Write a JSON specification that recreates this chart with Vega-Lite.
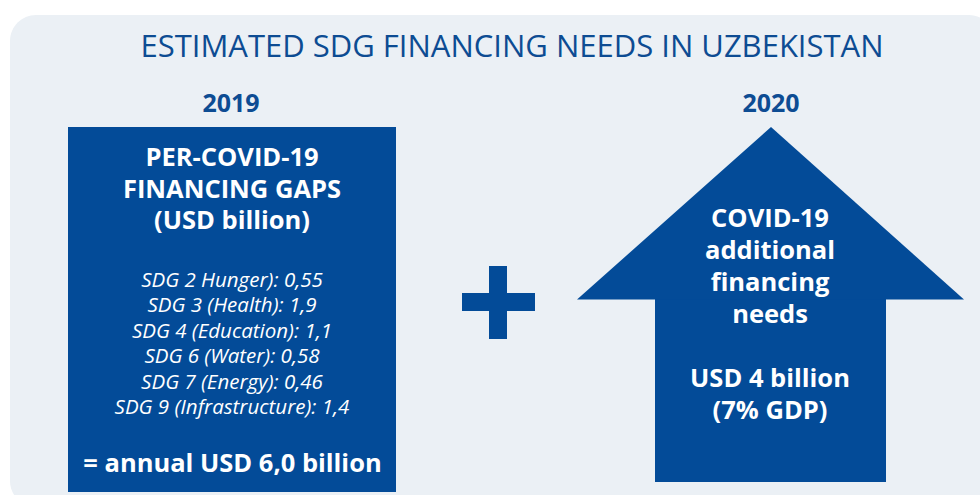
{
  "$schema": "https://vega.github.io/schema/vega-lite/v6.json",
  "width": 980,
  "height": 495,
  "padding": 0,
  "autosize": {"type": "none"},
  "background": "#FFFFFF",
  "config": {"view": {"stroke": null}, "font": "Open Sans"},
  "datasets": {
    "shapes": [
      {"part": "panel", "x": 10, "x2": 995, "y": 15, "y2": 507},
      {"part": "box2019", "x": 68, "x2": 396, "y": 127, "y2": 492},
      {"part": "plus", "x": 462, "x2": 535, "y": 293, "y2": 311},
      {"part": "plus", "x": 489, "x2": 507, "y": 266, "y2": 339},
      {"part": "arrow", "x": 655, "x2": 886, "y": 298, "y2": 482}
    ],
    "head": [
      {"x": 577, "top": 299.5, "base": 299.5},
      {"x": 771, "top": 127, "base": 299.5},
      {"x": 964, "top": 299.5, "base": 299.5}
    ],
    "texts": [
      {"role": "title", "text": "ESTIMATED SDG FINANCING NEEDS IN UZBEKISTAN", "x": 512, "y": 57},
      {"role": "year", "text": "2019", "x": 231, "y": 112},
      {"role": "year", "text": "2020", "x": 771, "y": 112},
      {"role": "head", "text": "PER-COVID-19", "x": 232, "y": 166},
      {"role": "head", "text": "FINANCING GAPS", "x": 232, "y": 198},
      {"role": "head", "text": "(USD billion)", "x": 232, "y": 229},
      {"role": "item", "text": "SDG 2 Hunger): 0,55", "value": 0.55, "x": 232, "y": 286.5},
      {"role": "item", "text": "SDG 3 (Health): 1,9", "value": 1.9, "x": 232, "y": 312},
      {"role": "item", "text": "SDG 4 (Education): 1,1", "value": 1.1, "x": 232, "y": 337.5},
      {"role": "item", "text": "SDG 6 (Water): 0,58", "value": 0.58, "x": 232, "y": 363},
      {"role": "item", "text": "SDG 7 (Energy): 0,46", "value": 0.46, "x": 232, "y": 388.5},
      {"role": "item", "text": "SDG 9 (Infrastructure): 1,4", "value": 1.4, "x": 232, "y": 414},
      {"role": "total", "text": "= annual USD 6,0 billion", "value": 6.0, "x": 232.5, "y": 471.5},
      {"role": "arrow", "text": "COVID-19", "x": 770, "y": 227},
      {"role": "arrow", "text": "additional", "x": 770, "y": 259},
      {"role": "arrow", "text": "financing", "x": 770, "y": 291},
      {"role": "arrow", "text": "needs", "x": 770, "y": 323},
      {"role": "arrow", "text": "USD 4 billion", "value": 4, "x": 770, "y": 387},
      {"role": "arrow", "text": "(7% GDP)", "value": 7, "x": 770, "y": 419}
    ]
  },
  "encoding": {
    "x": {"field": "x", "type": "quantitative", "scale": {"domain": [0, 980], "nice": false, "zero": false}, "axis": null},
    "y": {"field": "y", "type": "quantitative", "scale": {"domain": [0, 495], "nice": false, "zero": false, "reverse": true}, "axis": null}
  },
  "layer": [
    {
      "data": {"name": "shapes"},
      "transform": [{"filter": "datum.part === 'panel'"}],
      "mark": {"type": "rect", "fill": "#EBF0F5", "cornerRadius": 26, "clip": true},
      "encoding": {"x2": {"field": "x2"}, "y2": {"field": "y2"}}
    },
    {
      "data": {"name": "shapes"},
      "transform": [{"filter": "datum.part !== 'panel'"}],
      "mark": {"type": "rect", "fill": "#034B98"},
      "encoding": {"x2": {"field": "x2"}, "y2": {"field": "y2"}}
    },
    {
      "data": {"name": "head"},
      "mark": {"type": "area", "fill": "#034B98", "interpolate": "linear"},
      "encoding": {"y": {"field": "top", "type": "quantitative"}, "y2": {"field": "base"}}
    },
    {
      "data": {"name": "texts"},
      "transform": [{"filter": "datum.role === 'title'"}],
      "mark": {"type": "text", "align": "center", "baseline": "alphabetic", "fontSize": 31, "fontWeight": "normal", "fill": "#0D4C93"},
      "encoding": {"text": {"field": "text"}}
    },
    {
      "data": {"name": "texts"},
      "transform": [{"filter": "datum.role === 'year'"}],
      "mark": {"type": "text", "align": "center", "baseline": "alphabetic", "fontSize": 25, "fontWeight": "bold", "fill": "#0D4C93"},
      "encoding": {"text": {"field": "text"}}
    },
    {
      "data": {"name": "texts"},
      "transform": [{"filter": "datum.role === 'head' || datum.role === 'arrow'"}],
      "mark": {"type": "text", "align": "center", "baseline": "alphabetic", "fontSize": 25.5, "fontWeight": "bold", "fill": "#FFFFFF"},
      "encoding": {"text": {"field": "text"}}
    },
    {
      "data": {"name": "texts"},
      "transform": [{"filter": "datum.role === 'item'"}],
      "mark": {"type": "text", "align": "center", "baseline": "alphabetic", "fontSize": 20.5, "fontStyle": "italic", "fill": "#FFFFFF"},
      "encoding": {"text": {"field": "text"}}
    },
    {
      "data": {"name": "texts"},
      "transform": [{"filter": "datum.role === 'total'"}],
      "mark": {"type": "text", "align": "center", "baseline": "alphabetic", "fontSize": 25.5, "fontWeight": "bold", "fill": "#FFFFFF"},
      "encoding": {"text": {"field": "text"}}
    }
  ]
}
